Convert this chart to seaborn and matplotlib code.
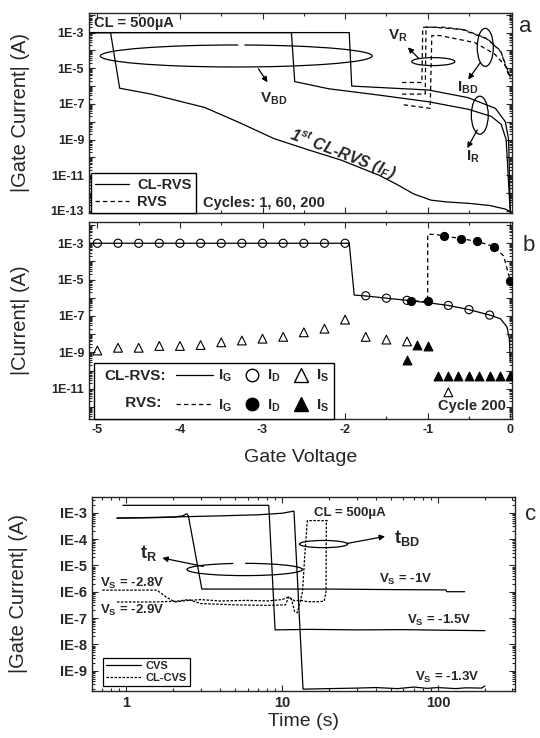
import numpy as np
import matplotlib
matplotlib.use("Agg")
import matplotlib.pyplot as plt
import seaborn as sns
from matplotlib.patches import Ellipse, Arc
from matplotlib.lines import Line2D
from matplotlib.legend_handler import HandlerLine2D
from matplotlib.ticker import FixedLocator, LogLocator, MultipleLocator, NullFormatter

# ---- panel a : |I_G| (log10 A) vs gate voltage, CL-RVS cycles 1/60/200 and RVS ----
a_c1_v = [-5.1, -4.84, -4.73, -4.35, -3.70, -3.28, -2.86, -2.43, -2.05, -1.59, -1.38, -1.17, -0.96, -0.77, -0.50, -0.25, -0.06, 0.0]
a_c1_lg = [-3.0, -3.0, -6.12, -6.45, -7.2, -8.05, -8.95, -9.6, -10.15, -11.0, -11.5, -12.05, -12.4, -12.5, -12.58, -12.7, -12.9, -13.05]
a_c60_v = [-5.1, -2.65, -2.61, -2.2, -1.6, -0.99, -0.51, -0.23, -0.11, -0.05, -0.01, 0.0]
a_c60_lg = [-3.0, -3.0, -5.75, -6.15, -6.5, -6.88, -7.3, -7.7, -8.15, -9.0, -12.3, -13.05]
a_c200_v = [-5.1, -1.95, -1.92, -1.5, -0.99, -0.51, -0.18, -0.06, -0.02, 0.0]
a_c200_lg = [-3.0, -3.0, -6.0, -6.1, -6.22, -6.65, -7.25, -8.0, -9.0, -13.05]
a_rvs1_v = [-1.31, -1.07, -1.06, -1.0, -0.59, -0.27, -0.11, -0.05, 0.0]
a_rvs1_lg = [-5.8, -5.8, -2.72, -2.68, -2.82, -3.37, -4.1, -5.0, -5.6]
a_rvs2_v = [-1.31, -1.03, -1.02, -0.8, -0.55, -0.3, -0.12, -0.04, 0.0]
a_rvs2_lg = [-6.45, -6.45, -2.7, -2.7, -2.85, -3.3, -4.0, -5.0, -5.5]
a_rvs3_v = [-1.29, -0.97, -0.95, -0.85, -0.43, -0.19, -0.06, 0.0]
a_rvs3_lg = [-7.05, -7.25, -3.17, -3.17, -3.56, -4.2, -4.85, -5.5]

# ---- panel b : cycle 200, gate / drain / source currents ----
b_ig_cl_v = [-5.1, -1.95, -1.89, -1.75, -1.5, -1.25, -1.0, -0.75, -0.5, -0.25, -0.12, -0.04, -0.01, 0.0]
b_ig_cl_lg = [-3.0, -3.0, -5.85, -5.9, -6.02, -6.14, -6.27, -6.42, -6.65, -6.95, -7.15, -7.6, -8.3, -9.5]
b_id_cl_v = [-5.0, -4.75, -4.5, -4.25, -4.0, -3.75, -3.5, -3.25, -3.0, -2.75, -2.5, -2.25, -2.0,
             -1.75, -1.5, -1.25, -0.75, -0.5, -0.25]
b_id_cl_lg = [-3.0, -3.0, -3.0, -3.0, -3.0, -3.0, -3.0, -3.0, -3.0, -3.0, -3.0, -3.0, -3.0,
              -5.89, -6.02, -6.14, -6.42, -6.65, -6.95]
b_is_cl_v = [-5.0, -4.75, -4.5, -4.25, -4.0, -3.75, -3.5, -3.25, -3.0, -2.75, -2.5, -2.25, -2.0,
             -1.75, -1.5, -1.25, -0.75]
b_is_cl_lg = [-8.9, -8.75, -8.75, -8.65, -8.65, -8.6, -8.45, -8.35, -8.25, -8.15, -7.9, -7.7, -7.2,
              -8.15, -8.3, -8.4, -11.2]
b_ig_rvs_v = [-1.25, -1.0, -1.0, -0.9, -0.8, -0.6, -0.4, -0.2, -0.08, 0.0]
b_ig_rvs_lg = [-6.14, -6.22, -2.5, -2.52, -2.6, -2.74, -2.9, -3.18, -3.7, -5.06]
b_id_rvs_v = [-1.2, -1.0, -0.8, -0.6, -0.4, -0.2, 0.0]
b_id_rvs_lg = [-6.15, -6.2, -2.6, -2.74, -2.9, -3.18, -5.06]
b_is_rvs_v = [-1.25, -1.13, -1.0, -0.88, -0.76, -0.63, -0.5, -0.38, -0.25, -0.12, 0.0]
b_is_rvs_lg = [-9.4, -8.6, -8.65, -10.3, -10.3, -10.3, -10.28, -10.3, -10.3, -10.3, -10.3]

# ---- panel c : |I_G| vs time, CVS and CL-CVS ----
c_cvs1_t = [0.87, 1.5, 2.0, 2.3, 2.44, 2.5, 3.05, 5.0, 10.0, 20.0, 50.0, 100.0, 112.0, 114.0, 148.0]
c_cvs1_lg = [-3.2, -3.19, -3.17, -3.12, -3.04, -3.12, -5.9, -5.9, -5.9, -5.9, -5.92, -5.93, -5.93, -6.0, -6.0]
c_cvs2_t = [0.95, 3.0, 8.2, 9.0, 15.0, 30.0, 60.0, 100.0, 200.0]
c_cvs2_lg = [-2.72, -2.72, -2.72, -7.45, -7.43, -7.45, -7.44, -7.46, -7.48]
c_cvs3_t = [0.87, 2.44, 4.0, 7.0, 10.0, 11.9, 13.6, 20.0, 30.0, 40.0, 55.0, 70.0, 85.0, 100.0, 130.0, 150.0, 190.0, 200.0]
c_cvs3_lg = [-3.21, -3.15, -3.12, -3.08, -3.02, -2.94, -9.7, -9.68, -9.66, -9.64, -9.68, -9.62, -9.67, -9.64, -9.68, -9.65, -9.66, -9.58]
c_cl1_t = [0.70, 1.57, 1.8, 2.05, 2.5, 3.0, 4.0, 6.0, 8.0, 10.0, 11.0, 12.0, 13.0, 14.5, 17.0, 18.6, 19.1, 19.2, 19.6]
c_cl1_lg = [-5.94, -5.94, -6.2, -6.39, -6.33, -6.3, -6.35, -6.33, -6.35, -6.3, -6.2, -6.35, -6.32, -6.38, -6.38, -6.36, -6.0, -3.3, -3.3]
c_cl2_t = [0.87, 1.5, 2.1, 2.5, 3.0, 5.0, 8.0, 10.5, 11.0, 11.5, 12.0, 12.5, 13.0, 13.5, 14.0, 14.5, 19.4]
c_cl2_lg = [-6.39, -6.39, -6.36, -6.3, -6.45, -6.5, -6.52, -6.5, -6.2, -6.3, -6.75, -6.8, -6.4, -6.0, -4.5, -3.3, -3.3]

ab_ticks = [-13, -12, -11, -10, -9, -8, -7, -6, -5, -4, -3, -2]
c_ticks = [-9, -8, -7, -6, -5, -4, -3]

sns.set_theme(style="ticks")
plt.rcParams["font.family"] = ["Liberation Sans", "DejaVu Sans"]
plt.rcParams["mathtext.default"] = "regular"
plt.rcParams["axes.unicode_minus"] = False
plt.rcParams["axes.linewidth"] = 1.0

SOLID = "-"
DASH = (0, (3.5, 2.5))
DOT = (0, (2, 1.2))


class NarrowHandler(HandlerLine2D):
	# legend handle drawn in a narrower box than handlelength
	def __init__(self, frac, **kw):
		super().__init__(**kw)
		self.frac = frac

	def legend_artist(self, legend, orig_handle, fontsize, handlebox):
		handlebox.width = handlebox.width * self.frac
		return super().legend_artist(legend, orig_handle, fontsize, handlebox)


def line(ax, x, lg, ls=SOLID):
	sns.lineplot(x=np.asarray(x), y=np.power(10.0, np.asarray(lg)), sort=False, estimator=None,
				 color="black", linewidth=0.9, linestyle=ls, ax=ax)


def points(ax, x, lg, marker, filled, size=34):
	sns.scatterplot(x=np.asarray(x), y=np.power(10.0, np.asarray(lg)), marker=marker, s=size,
					facecolor="black" if filled else "none", edgecolor="black", linewidth=0.8,
					ax=ax, zorder=3)


def style_axes(ax, size=9):
	ax.tick_params(which="both", direction="in", top=True, right=True, width=0.8)
	ax.tick_params(which="major", length=4, labelsize=size)
	ax.tick_params(which="minor", length=2)
	for lab in ax.get_xticklabels() + ax.get_yticklabels():
		lab.set_fontweight("bold")


def log_y(ax, exps, labels):
	ax.set_yscale("log")
	ax.yaxis.set_major_locator(FixedLocator([10.0 ** e for e in exps]))
	ax.set_yticklabels(labels)
	ax.yaxis.set_minor_locator(LogLocator(base=10, subs=np.arange(2, 10), numticks=100))
	ax.yaxis.set_minor_formatter(NullFormatter())


bold = dict(fontweight="bold")
arrow = dict(arrowstyle="-|>", color="black", lw=0.9, mutation_scale=8, shrinkA=0, shrinkB=0)

fig = plt.figure(figsize=(5.4, 7.38), dpi=100)
ax_a = fig.add_axes([0.165, 0.7114, 0.783, 0.271])
ax_b = fig.add_axes([0.165, 0.4322, 0.783, 0.267])
ax_c = fig.add_axes([0.170, 0.0637, 0.783, 0.263])

# ---------------- panel a ----------------
ax = ax_a
log_y(ax, ab_ticks, ["1E-13", "", "1E-11", "", "1E-9", "", "1E-7", "", "1E-5", "", "1E-3", ""])
line(ax, a_c1_v, a_c1_lg)
line(ax, a_c60_v, a_c60_lg)
line(ax, a_c200_v, a_c200_lg)
line(ax, a_rvs1_v, a_rvs1_lg, DASH)
line(ax, a_rvs2_v, a_rvs2_lg, DASH)
line(ax, a_rvs3_v, a_rvs3_lg, DASH)
ax.set_xlim(-5.1, 0.02)
ax.set_ylim(10 ** -13.12, 10 ** -1.9)
ax.xaxis.set_major_locator(MultipleLocator(1))
ax.xaxis.set_minor_locator(MultipleLocator(0.5))
ax.set_xticklabels([])
ax.set_xlabel("")
ax.set_ylabel("|Gate Current| (A)", fontsize=14.5)
ax.yaxis.set_label_coords(-0.14, 0.5)
style_axes(ax)

ax.text(-5.04, 10 ** -2.47, "CL = 500\u00b5A", fontsize=10.5, va="center", **bold)
ax.add_patch(Arc((0.348, 0.785), 0.643, 0.11, theta1=85, theta2=430.5, transform=ax.transAxes,
				 color="black", lw=0.9))
ax.annotate("", xy=(-2.94, 10 ** -5.79), xytext=(-3.05, 10 ** -5.03), arrowprops=arrow)
ax.text(-2.86, 10 ** -6.74, "V$_{BD}$", fontsize=11, ha="center", va="center", **bold)
ax.text(-2.02, 10 ** -9.75, "1$^{st}$ CL-RVS (I$_F$)", fontsize=11.5, fontstyle="italic", rotation=-21,
		ha="center", va="center", rotation_mode="anchor", **bold)
ax.add_patch(Ellipse((0.814, 0.757), 0.102, 0.04, transform=ax.transAxes, fill=False, color="black", lw=0.9))
ax.annotate("", xy=(-1.24, 10 ** -3.83), xytext=(-1.11, 10 ** -4.44), arrowprops=arrow)
ax.text(-1.36, 10 ** -3.2, "V$_R$", fontsize=11, ha="center", va="center", **bold)
ax.add_patch(Ellipse((0.937, 0.828), 0.038, 0.19, transform=ax.transAxes, fill=False, color="black", lw=0.9))
ax.annotate("", xy=(-0.51, 10 ** -5.63), xytext=(-0.36, 10 ** -4.67), arrowprops=arrow)
ax.text(-0.51, 10 ** -6.1, "I$_{BD}$", fontsize=11, ha="center", va="center", **bold)
ax.add_patch(Ellipse((0.924, 0.489), 0.04, 0.19, transform=ax.transAxes, fill=False, color="black", lw=0.9))
ax.annotate("", xy=(-0.52, 10 ** -9.48), xytext=(-0.40, 10 ** -8.46), arrowprops=arrow)
ax.text(-0.45, 10 ** -9.95, "I$_R$", fontsize=11, ha="center", va="center", **bold)
ax.text(0.27, 0.05, "Cycles: 1, 60, 200", transform=ax.transAxes, fontsize=10.5, va="center", **bold)
hs = [Line2D([], [], color="black", lw=0.9), Line2D([], [], color="black", lw=0.9, ls=DASH)]
ax.legend(hs, ["CL-RVS", "RVS"], loc="lower left", bbox_to_anchor=(0.004, 0.0), borderaxespad=0,
		  fancybox=False, edgecolor="black", framealpha=1, prop={"weight": "bold", "size": 10.5},
		  handlelength=2.3, borderpad=0.3, labelspacing=0.2, handletextpad=0.6)
ax.get_legend().get_frame().set_linewidth(1.0)

# ---------------- panel b ----------------
ax = ax_b
log_y(ax, ab_ticks, ["", "", "1E-11", "", "1E-9", "", "1E-7", "", "1E-5", "", "1E-3", ""])
line(ax, b_ig_cl_v, b_ig_cl_lg)
line(ax, b_ig_rvs_v, b_ig_rvs_lg, DASH)
points(ax, b_id_cl_v, b_id_cl_lg, "o", False)
points(ax, b_is_cl_v, b_is_cl_lg, "^", False, 40)
points(ax, b_id_rvs_v, b_id_rvs_lg, "o", True)
points(ax, b_is_rvs_v, b_is_rvs_lg, "^", True, 40)
ax.set_xlim(-5.1, 0.02)
ax.set_ylim(10 ** -12.67, 10 ** -1.83)
ax.xaxis.set_minor_locator(MultipleLocator(0.5))
ax.set_xticks([-5, -4, -3, -2, -1, 0])
ax.set_xticklabels(["-5", "-4", "-3", "-2", "-1", "0"])
ax.set_xlabel("Gate Voltage", fontsize=14)
ax.xaxis.set_label_coords(0.5, -0.15)
ax.set_ylabel("|Current| (A)", fontsize=14.5)
ax.yaxis.set_label_coords(-0.14, 0.5)
style_axes(ax)
ax.text(0.985, 0.065, "Cycle 200", transform=ax.transAxes, ha="right", va="center", fontsize=10.5, **bold)
blank = Line2D([], [], linestyle="none")
h_g_cl = Line2D([], [], color="black", lw=0.9)
h_g_rvs = Line2D([], [], color="black", lw=0.9, ls=DASH)
h_d_cl = Line2D([], [], ls="none", marker="o", mfc="none", mec="black", ms=9)
h_d_rvs = Line2D([], [], ls="none", marker="o", mfc="black", mec="black", ms=9)
h_s_cl = Line2D([], [], ls="none", marker="^", mfc="none", mec="black", ms=10)
h_s_rvs = Line2D([], [], ls="none", marker="^", mfc="black", mec="black", ms=10)
hs = [blank, blank, h_g_cl, h_g_rvs, h_d_cl, h_d_rvs, h_s_cl, h_s_rvs]
labs = ["CL-RVS:", "     RVS:", "I$_G$", "I$_G$", "I$_D$", "I$_D$", "I$_S$", "I$_S$"]
hmap = {blank: NarrowHandler(0.0)}
for h in (h_d_cl, h_d_rvs, h_s_cl, h_s_rvs):
	hmap[h] = NarrowHandler(0.55)
leg = ax.legend(hs, labs, ncol=4, loc="lower left", bbox_to_anchor=(0.012, 0.0), borderaxespad=0,
				fancybox=False, edgecolor="black", framealpha=1, prop={"weight": "bold", "size": 11},
				handlelength=2.4, handletextpad=0.3, columnspacing=0.7, borderpad=0.35, labelspacing=0.85,
				handler_map=hmap)
leg.get_frame().set_linewidth(1.0)

# ---------------- panel c ----------------
ax = ax_c
ax.set_xscale("log")
log_y(ax, c_ticks, ["IE-9", "IE-8", "IE-7", "IE-6", "IE-5", "IE-4", "IE-3"])
line(ax, c_cvs1_t, c_cvs1_lg)
line(ax, c_cvs2_t, c_cvs2_lg)
line(ax, c_cvs3_t, c_cvs3_lg)
line(ax, c_cl1_t, c_cl1_lg, DOT)
line(ax, c_cl2_t, c_cl2_lg, DOT)
ax.set_xlim(0.6, 310)
ax.set_ylim(10 ** -9.77, 10 ** -2.4)
ax.xaxis.set_major_locator(FixedLocator([1, 10, 100]))
ax.set_xticklabels(["1", "10", "100"])
ax.xaxis.set_minor_locator(LogLocator(base=10, subs=np.arange(2, 10), numticks=100))
ax.xaxis.set_minor_formatter(NullFormatter())
ax.set_xlabel("Time (s)", fontsize=14)
ax.xaxis.set_label_coords(0.5, -0.115)
ax.set_ylabel("|Gate Current| (A)", fontsize=14.5)
ax.yaxis.set_label_coords(-0.15, 0.5)
style_axes(ax, 10.5)

ax.text(27, 10 ** -3.0, "CL = 500\u00b5A", fontsize=9.5, ha="center", va="center", **bold)
ax.add_patch(Ellipse((0.548, 0.757), 0.114, 0.037, transform=ax.transAxes, fill=False, color="black", lw=0.9))
ax.annotate("", xy=(45.7, 10 ** -3.9), xytext=(26, 10 ** -4.17), arrowprops=arrow)
ax.text(52, 10 ** -3.96, "t$_{BD}$", fontsize=13, ha="left", va="center", **bold)
ax.add_patch(Arc((0.3616, 0.626), 0.273, 0.063, theta1=131, theta2=448, transform=ax.transAxes,
				 color="black", lw=0.9))
ax.annotate("", xy=(1.70, 10 ** -4.72), xytext=(3.12, 10 ** -5.04), arrowprops=arrow)
ax.text(1.39, 10 ** -4.53, "t$_R$", fontsize=13, ha="center", va="center", **bold)
ax.text(62, 10 ** -5.55, "V$_S$ = -1V", fontsize=9.5, ha="center", va="center", **bold)
ax.text(102, 10 ** -7.09, "V$_S$ = -1.5V", fontsize=9.5, ha="center", va="center", **bold)
ax.text(114, 10 ** -9.26, "V$_S$ = -1.3V", fontsize=9.5, ha="center", va="center", **bold)
ax.text(0.68, 10 ** -5.67, "V$_S$ = -2.8V", fontsize=9.5, ha="left", va="center", **bold)
ax.text(0.68, 10 ** -6.7, "V$_S$ = -2.9V", fontsize=9.5, ha="left", va="center", **bold)
hs = [Line2D([], [], color="black", lw=0.9), Line2D([], [], color="black", lw=0.9, ls=DOT)]
leg = ax.legend(hs, ["CVS", "CL-CVS"], loc="lower left", bbox_to_anchor=(0.026, 0.026), borderaxespad=0,
				fancybox=False, edgecolor="black", framealpha=1, prop={"weight": "bold", "size": 8},
				handlelength=3.2, borderpad=0.25, labelspacing=0.2, handletextpad=0.4)
leg.get_frame().set_linewidth(0.9)

fig.text(0.962, 0.957, "a", fontsize=16)
fig.text(0.967, 0.66, "b", fontsize=16)
fig.text(0.972, 0.295, "c", fontsize=16)

fig.savefig("out.png", dpi=100)
